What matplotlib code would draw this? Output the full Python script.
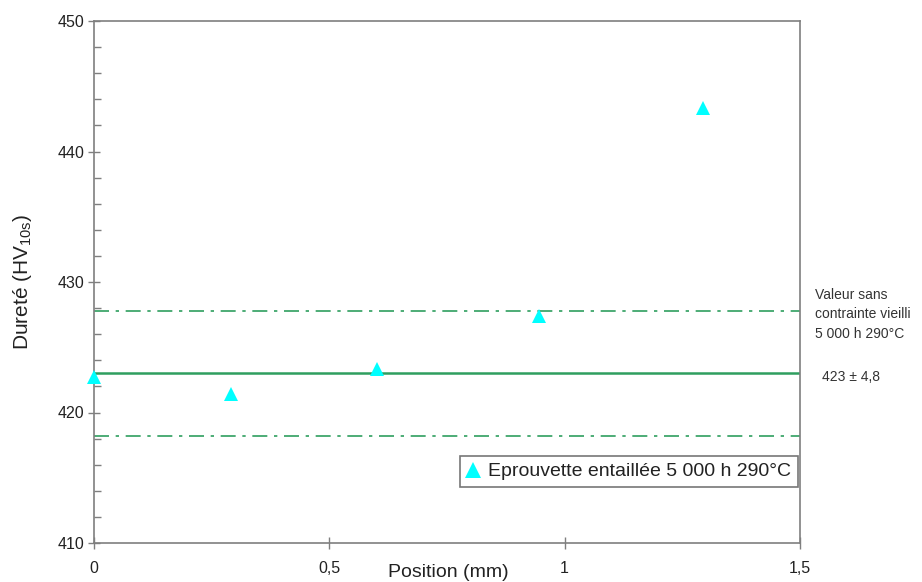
import matplotlib
matplotlib.use("Agg")
import matplotlib.pyplot as plt
from matplotlib.ticker import MultipleLocator, FuncFormatter

plt.rcParams['font.family'] = ['Liberation Sans', 'DejaVu Sans']
plt.rcParams['mathtext.fontset'] = 'custom'
plt.rcParams['mathtext.rm'] = 'Liberation Sans'

positions = [0.0, 0.291, 0.601, 0.945, 1.294]
hardness = [422.7, 421.4, 423.3, 427.4, 443.3]
mean_value = 423.0
deviation = 4.8
series_label = "Eprouvette entaillée 5 000 h 290°C"
ref_label = "Valeur sans\ncontrainte vieilli\n5 000 h 290°C"
ref_value_label = "423 ± 4,8"

fig = plt.figure(figsize=(9.22, 5.82), dpi=100)
ax = fig.add_axes([94/922, 1-543/582, (800-94)/922, (543-21)/582])

green = '#2f9e5f'
ax.axhline(mean_value, color=green, lw=1.8)
ax.axhline(mean_value + deviation, color=green, lw=1.2, dashes=(9, 4, 2, 4))
ax.axhline(mean_value - deviation, color=green, lw=1.2, dashes=(9, 4, 2, 4))

ax.plot(positions, hardness, linestyle='none', marker='^', color='#00ffff',
        markersize=10, markeredgewidth=0, label=series_label, clip_on=False, zorder=5)

ax.set_xlim(0, 1.5)
ax.set_ylim(410, 450)
ax.xaxis.set_major_locator(MultipleLocator(0.5))
ax.yaxis.set_major_locator(MultipleLocator(10))
ax.yaxis.set_minor_locator(MultipleLocator(2))

def fmt(v, pos):
    return ('%g' % v).replace('.', ',')
ax.xaxis.set_major_formatter(FuncFormatter(fmt))

for sp in ax.spines.values():
    sp.set_color('#7f7f7f')
    sp.set_linewidth(1.2)

ax.tick_params(axis='both', which='major', direction='inout', length=8, width=1,
               color='#7f7f7f', labelsize=11.5, pad=3, labelcolor='#222222')
ax.tick_params(axis='y', which='minor', direction='in', length=5, width=1, color='#7f7f7f')
ax.tick_params(axis='x', which='major', pad=9)

ax.set_ylabel(r'Dureté (HV$_{\rm 10s}$)', fontsize=15, color='#222222')
ax.yaxis.set_label_coords(-0.085, 0.5)
ax.set_xlabel('Position (mm)', fontsize=14, color='#222222')
ax.xaxis.set_label_coords((448-94)/706, -0.040)

leg = ax.legend(loc='lower right', bbox_to_anchor=(0.997, 0.107), frameon=True, fancybox=False,
                fontsize=14, handlelength=0.7, handletextpad=0.4, borderpad=0.35,
                borderaxespad=0.0, markerscale=1.1)
leg.get_frame().set_edgecolor('#555555')
leg.get_frame().set_linewidth(1.2)
for t in leg.get_texts():
    t.set_color('#222222')

fig.text(815/922, 1-288/582, ref_label, fontsize=10, va='top', ha='left', color='#333333',
         linespacing=1.5)
fig.text(822/922, 1-377/582, ref_value_label, fontsize=10, va='center', ha='left',
         color='#333333')

fig.savefig('out.png', dpi=100)
